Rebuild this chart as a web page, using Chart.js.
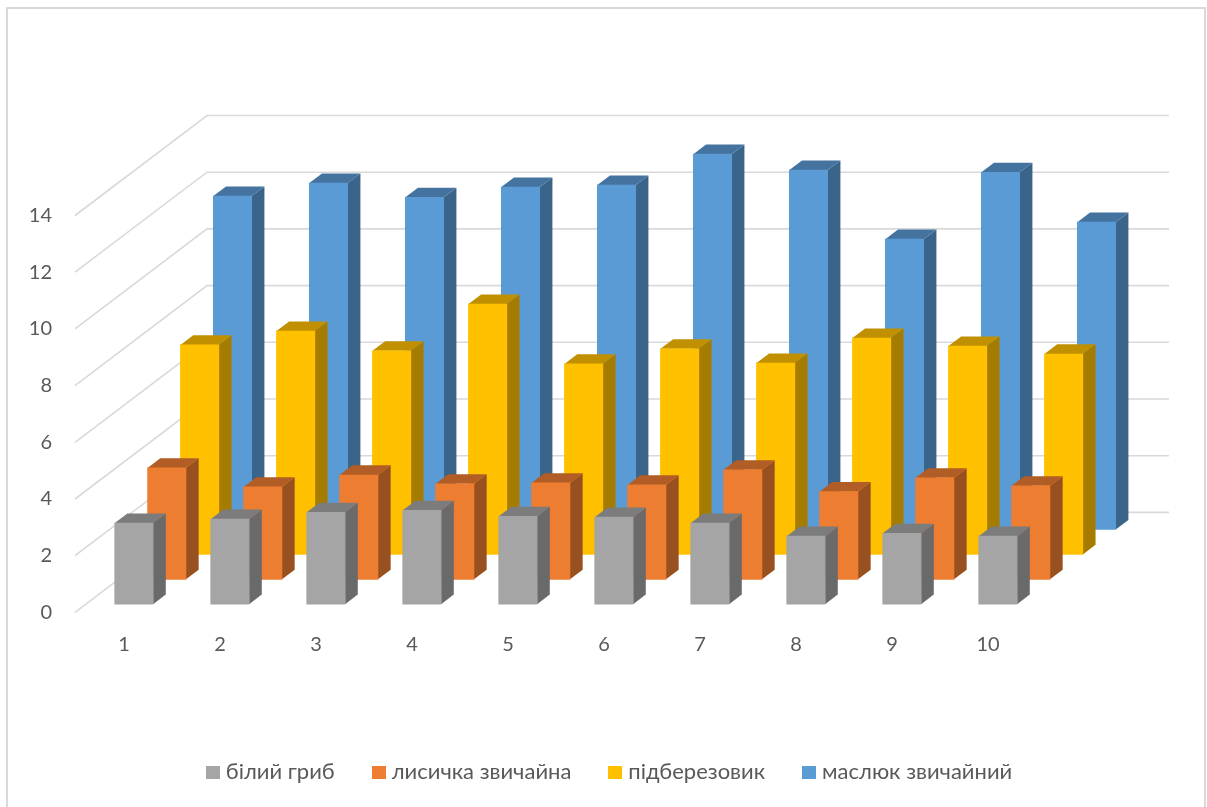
<!DOCTYPE html>
<html>
<head>
<meta charset="utf-8">
<title>Гриби</title>
<script src="https://cdn.jsdelivr.net/npm/chart.js@4/dist/chart.umd.min.js"></script>
<style>
    html, body { margin: 0; padding: 0; background: #fff; overflow: hidden; }
    #mushrooms { display: block; }
</style>
</head>
<body>
<canvas id="mushrooms" width="1207" height="807"></canvas>
<script>
// Data
const categories = ['1', '2', '3', '4', '5', '6', '7', '8', '9', '10'];
const seriesNames = ['білий гриб', 'лисичка звичайна', 'підберезовик', 'маслюк звичайний'];
const biliyGryb = [2.86, 3.0, 3.24, 3.31, 3.1, 3.07, 2.86, 2.4, 2.5, 2.4];
const lysychka = [3.93, 3.26, 3.68, 3.37, 3.4, 3.33, 3.86, 3.09, 3.58, 3.3];
const pidberezovyk = [7.39, 7.88, 7.18, 8.83, 6.72, 7.25, 6.75, 7.63, 7.35, 7.07];
const maslyuk = [11.76, 12.22, 11.72, 12.08, 12.15, 13.24, 12.68, 10.24, 12.6, 10.84];
const yTicks = [0, 2, 4, 6, 8, 10, 12, 14];

// Colours: front, side and top face of each series
const frontColors = ['#A5A5A5', '#ED7D31', '#FFC000', '#5B9BD5'];
const sideColors = ['#6A6A6A', '#985020', '#A67C00', '#3A6489'];
const topColors = ['#7C7C7C', '#B25D25', '#C09000', '#44739F'];

const textColor = '#595959';
const gridColor = '#D9D9D9';

// Depth of the fake 3D box
const wallLeft = 75, wallRight = 1169;
const wallDX = 132, wallDY = -100;
const rowDX = 32.87, rowDY = -24.9;
const firstRowDX = 9.9, firstRowDY = -8.2;
const barDX = 12.7, barDY = -9.6;

function fillFace(ctx, points, color) {
    ctx.beginPath();
    ctx.moveTo(points[0][0], points[0][1]);
    points.slice(1).forEach(p => ctx.lineTo(p[0], p[1]));
    ctx.closePath();
    ctx.fillStyle = color;
    ctx.fill();
}

// Legend swatch, kept on its own small canvas so the text can sit close to it
function makeSwatch(color) {
    const c = document.createElement('canvas');
    c.width = 14;
    c.height = 13;
    const g = c.getContext('2d');
    g.fillStyle = color;
    g.fillRect(0, 0, 14, 13);
    return c;
}
const swatches = frontColors.map(makeSwatch);

// Outer frame and the side/back walls with gridlines
const wallsPlugin = {
    id: 'walls',
    afterLayout(chart) {
        // legend is centred on the whole frame, not on the plot
        const legend = chart.legend;
        legend.left += 93.5;
        legend.right += 93.5;
        legend.top = 772 - 11 - legend.options.labels.padding;
    },
    beforeDraw(chart) {
        const ctx = chart.ctx;
        ctx.save();
        ctx.strokeStyle = gridColor;
        ctx.lineWidth = 2;
        ctx.strokeRect(7, 8, 1198, 900);
        ctx.restore();
    },
    beforeDatasetsDraw(chart) {
        const ctx = chart.ctx;
        const y = chart.scales.y;
        ctx.save();
        ctx.strokeStyle = gridColor;
        ctx.lineWidth = 1.6;
        yTicks.forEach(v => {
            const py = y.getPixelForValue(v);
            ctx.beginPath();
            ctx.moveTo(wallLeft, py);
            ctx.lineTo(wallLeft + wallDX, py + wallDY);
            ctx.lineTo(wallRight, py + wallDY);
            ctx.stroke();
        });
        ctx.restore();
    }
};

// Each series sits on its own row in depth; side and top faces come from the bar elements
const depthPlugin = {
    id: 'depth',
    beforeDatasetDraw(chart, args) {
        const ctx = chart.ctx;
        const i = args.index;
        ctx.save();
        ctx.translate(firstRowDX + rowDX * i, firstRowDY + rowDY * i);
        args.meta.data.forEach(bar => {
            const p = bar.getProps(['x', 'y', 'base', 'width'], true);
            const l = p.x - p.width / 2;
            const r = p.x + p.width / 2;
            fillFace(ctx, [[r, p.y], [r + barDX, p.y + barDY], [r + barDX, p.base + barDY], [r, p.base]], sideColors[i]);
            fillFace(ctx, [[l, p.y], [l + barDX, p.y + barDY], [r + barDX, p.y + barDY], [r, p.y]], topColors[i]);
        });
    },
    afterDatasetDraw(chart) {
        chart.ctx.restore();
    }
};

const allSeries = [biliyGryb, lysychka, pidberezovyk, maslyuk];

new Chart(document.getElementById('mushrooms'), {
    type: 'bar',
    data: {
        labels: categories,
        datasets: allSeries.map((values, i) => ({
            label: seriesNames[i],
            data: values,
            backgroundColor: frontColors[i],
            barThickness: 38.4,
            grouped: false,
            clip: false
        }))
    },
    options: {
        responsive: false,
        animation: false,
        devicePixelRatio: 1,
        layout: { padding: { left: 0, right: 171, top: 215.5, bottom: 8 } },
        scales: {
            x: {
                grid: { display: false },
                border: { display: false },
                ticks: { color: textColor, font: { family: 'Lato', size: 20 }, padding: 12.5, maxRotation: 0 },
                afterFit: s => { s.height = 112.6; }
            },
            y: {
                min: 0,
                max: 14,
                grid: { display: false },
                border: { display: false },
                afterFit: s => { s.width = 76; },
                ticks: { color: textColor, stepSize: 2, font: { family: 'Lato', size: 20 }, padding: 16 }
            }
        },
        plugins: {
            tooltip: { enabled: false },
            legend: {
                position: 'bottom',
                labels: {
                    color: textColor,
                    usePointStyle: true,
                    pointStyleWidth: 4,
                    boxHeight: 13,
                    padding: 42,
                    font: { family: 'Lato', size: 22 },
                    generateLabels(chart) {
                        const items = Chart.defaults.plugins.legend.labels.generateLabels(chart);
                        items.forEach((item, i) => { item.pointStyle = swatches[i]; });
                        return items;
                    }
                }
            }
        }
    },
    plugins: [wallsPlugin, depthPlugin]
});
</script>
</body>
</html>
